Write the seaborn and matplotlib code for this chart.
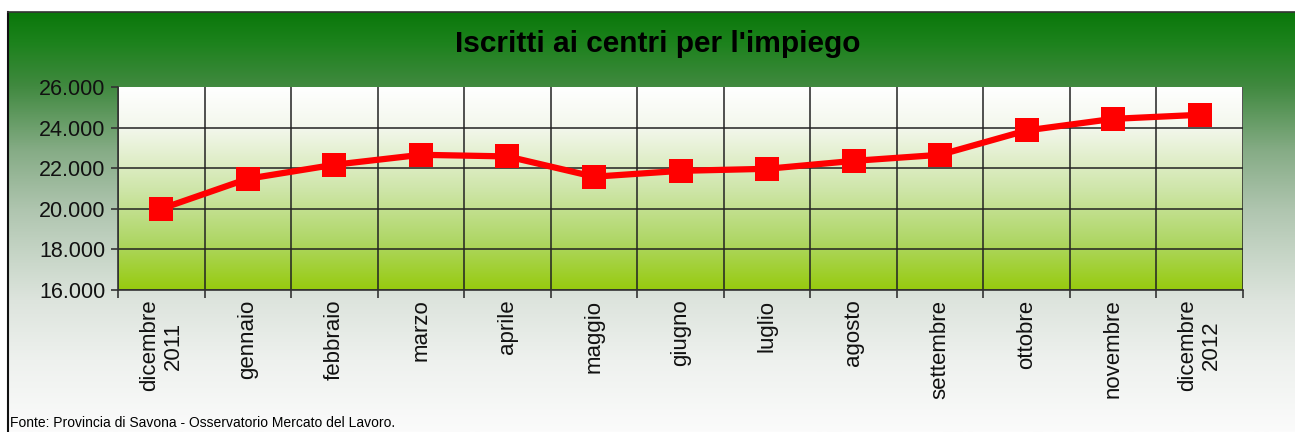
import numpy as np
import matplotlib
matplotlib.use("Agg")
import matplotlib.pyplot as plt
from matplotlib.colors import LinearSegmentedColormap
from matplotlib.ticker import FuncFormatter, FixedLocator
import seaborn as sns
import pandas as pd

# ---- data ----
months = ["dicembre\n2011", "gennaio", "febbraio", "marzo", "aprile", "maggio",
          "giugno", "luglio", "agosto", "settembre", "ottobre", "novembre",
          "dicembre\n2012"]
iscritti = [20000, 21480, 22170, 22660, 22580, 21580, 21870, 21970, 22360,
            22660, 23860, 24430, 24630]
y_ticks = [16000, 18000, 20000, 22000, 24000, 26000]
title = "Iscritti ai centri per l'impiego"
source = "Fonte: Provincia di Savona - Osservatorio Mercato del Lavoro."

sns.set_theme(style="white")
plt.rcParams['font.family'] = ['Liberation Sans', 'DejaVu Sans']

W, H = 1295, 432
fig = plt.figure(figsize=(W / 100, H / 100), dpi=100)
fig.patch.set_facecolor("white")

# ---- outer gradient background ----
bg = fig.add_axes([8 / W, 0, 1 - 8 / W, (H - 12) / H])
outer_cmap = LinearSegmentedColormap.from_list("outer", [
    (0.0, "#0a780a"), (0.07, "#1c821c"), (0.174, "#40893f"),
    (0.33, "#86ac86"), (0.47, "#afc5af"), (0.59, "#c9d7c9"),
    (0.686, "#dde4dd"), (0.83, "#eef1ee"), (1.0, "#fbfbfb")])
grad = np.linspace(0, 1, 256).reshape(-1, 1)
bg.imshow(grad, aspect="auto", cmap=outer_cmap, extent=[0, 1, 0, 1],
          origin="upper")
bg.set_xlim(0, 1); bg.set_ylim(0, 1)
bg.set_xticks([]); bg.set_yticks([])
for s in ["right", "bottom"]:
    bg.spines[s].set_visible(False)
bg.spines["left"].set_color("#111111"); bg.spines["left"].set_linewidth(1.5)
bg.spines["top"].set_color("#333333"); bg.spines["top"].set_linewidth(1.2)

# ---- main axes ----
ax = fig.add_axes([118 / W, 1 - 290 / H, (1243 - 118) / W, (290 - 87) / H])
ax.set_facecolor("none")
inner_cmap = LinearSegmentedColormap.from_list("inner", [
    (0.0, "#ffffff"), (0.2, "#f3f7ec"), (0.5, "#cfe6aa"), (0.75, "#b0d768"),
    (1.0, "#97cb0e")])
ax.imshow(grad, aspect="auto", cmap=inner_cmap, extent=[0, 1, 0, 1],
          origin="upper", transform=ax.transAxes, zorder=0)

df = pd.DataFrame({"mese": months, "iscritti": iscritti})
sns.lineplot(data=df, x="mese", y="iscritti", ax=ax, sort=False,
             color="#ff0000", linewidth=4.5, marker="s", markersize=17.5,
             markeredgewidth=0, zorder=5)

n = len(months)
ax.set_xlim(-0.5, n - 0.5)
ax.set_ylim(y_ticks[0], y_ticks[-1])
ax.set_xlabel(""); ax.set_ylabel("")

ax.yaxis.set_major_locator(FixedLocator(y_ticks))
ax.yaxis.set_major_formatter(FuncFormatter(lambda v, p: f"{int(v):,}".replace(",", ".")))
ax.set_xticks(range(n))
ax.set_xticklabels(months, rotation=90, fontsize=16, ha="center", va="top",
                   multialignment="center")
ax.xaxis.set_minor_locator(FixedLocator(np.arange(-0.5, n, 1.0)))
ax.tick_params(axis="x", which="major", length=0, pad=7, labelsize=16,
               colors="#111111")
ax.tick_params(axis="x", which="minor", length=6, width=1.2, direction="out",
               color="#333333", bottom=True)
ax.tick_params(axis="y", which="major", length=5, width=1.2, direction="out",
               color="#333333", labelsize=15.5, labelcolor="#111111", pad=4,
               left=True)

ax.grid(True, axis="y", which="major", color="#222222", linewidth=1.1)
ax.grid(True, axis="x", which="minor", color="#222222", linewidth=1.1)
ax.grid(False, axis="x", which="major")
ax.yaxis.get_gridlines()[-1].set_visible(False)
ax.set_axisbelow(True)
for s in ["top", "right"]:
    ax.spines[s].set_visible(False)
for s in ["left", "bottom"]:
    ax.spines[s].set_visible(True)
    ax.spines[s].set_color("#333333")
    ax.spines[s].set_linewidth(1.2)

fig.text(658 / W, 1 - 44 / H, title, ha="center", va="center",
         fontsize=21.5, fontweight="bold", color="black")
fig.text(10 / W, 1 - 423 / H, source, ha="left", va="center", fontsize=10,
         color="black")

fig.savefig("out.png", dpi=100)
